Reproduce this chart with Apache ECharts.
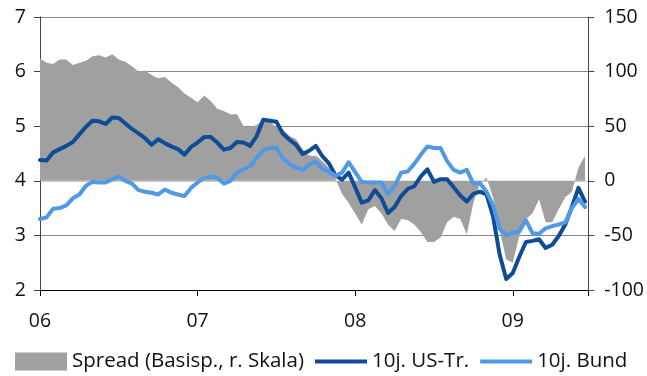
<!DOCTYPE html>
<html>
<head>
<meta charset="utf-8">
<script src="https://cdn.jsdelivr.net/npm/echarts@6/dist/echarts.min.js"></script>
<style>
html,body{margin:0;padding:0;background:#fff;}
#chart{width:647px;height:376px;}
</style>
</head>
<body>
<div id="chart"></div>
<script>
// half-monthly observations, Jan 2006 .. mid 2009
const yearLabels = ['06', '07', '08', '09'];
const stepsPerYear = 24;

const usTr = [4.38,4.37,4.52,4.58,4.64,4.71,4.85,4.99,5.10,5.09,
  5.04,5.16,5.15,5.05,4.95,4.87,4.78,4.66,4.76,4.69,
  4.63,4.58,4.48,4.62,4.70,4.80,4.80,4.70,4.57,4.60,
  4.71,4.70,4.64,4.82,5.12,5.10,5.08,4.86,4.75,4.66,
  4.49,4.55,4.64,4.45,4.32,4.10,4.02,4.15,3.88,3.60,
  3.64,3.83,3.68,3.41,3.52,3.72,3.85,3.90,4.08,4.21,
  3.98,4.03,4.03,3.88,3.73,3.62,3.76,3.80,3.75,3.35,
  2.65,2.20,2.31,2.61,2.88,2.90,2.93,2.77,2.83,2.99,
  3.20,3.52,3.87,3.62];

const bund = [3.30,3.33,3.49,3.50,3.55,3.68,3.75,3.91,3.98,3.97,
  3.97,4.03,4.08,4.00,3.95,3.83,3.80,3.78,3.75,3.84,
  3.78,3.75,3.72,3.87,3.97,4.05,4.08,4.05,3.95,4.00,
  4.15,4.21,4.27,4.42,4.56,4.60,4.61,4.41,4.31,4.24,
  4.20,4.30,4.35,4.22,4.17,4.09,4.15,4.34,4.16,3.98,
  3.97,3.97,3.97,3.76,3.90,4.15,4.17,4.31,4.48,4.63,
  4.60,4.60,4.36,4.20,4.15,4.20,3.95,3.96,3.80,3.55,
  3.12,3.00,3.05,3.07,3.28,3.04,3.03,3.13,3.17,3.20,
  3.24,3.50,3.67,3.52];

const spread = [112,108,107,111,111,106,108,110,114,115,
  113,116,111,109,105,100,101,97,94,95,
  90,86,80,76,72,78,73,66,64,61,
  61,50,49,51,56,54,49,47,41,38,
  29,23,23,18,12,2,-12,-20,-30,-40,
  -26,-23,-30,-40,-46,-35,-36,-40,-47,-56,
  -56,-52,-38,-33,-35,-49,-20,-3,3,-15,
  -45,-72,-75,-50,-35,-30,-17,-38,-38,-26,
  -15,-10,12,23];

const names = ['Spread (Basisp., r. Skala)', '10j. US-Tr.', '10j. Bund'];
const colors = ['#a0a0a0', '#0f4c97', '#5099e6'];

const pairs = arr => arr.map((v, i) => [i, v]);
const FONT = 'Open Sans';
const txt = {color: '#111', fontSize: 19.5, fontFamily: FONT};

const chart = echarts.init(document.getElementById('chart'), null, {renderer: 'canvas'});
chart.setOption({
  animation: false,
  backgroundColor: '#fff',
  grid: {left: 40, right: 57, top: 17, bottom: 86, containLabel: false},
  legend: {
    left: 15, top: 351, itemWidth: 52, itemHeight: 18, itemGap: 11, padding: 0,
    textStyle: {color: '#111', fontSize: 20.5, fontFamily: FONT},
    data: [
      {name: names[0], icon: 'rect'},
      {name: names[1], icon: 'path://M0,0L52,0L52,4L0,4Z'},
      {name: names[2], icon: 'path://M0,0L52,0L52,4L0,4Z'}
    ]
  },
  xAxis: {
    type: 'value', min: 0, max: 83.5, interval: stepsPerYear,
    axisLine: {show: true, onZero: false, lineStyle: {color: '#000', width: 1}},
    axisTick: {show: true, length: 6, lineStyle: {color: '#000'}},
    splitLine: {show: false},
    axisLabel: Object.assign({margin: 21, formatter: v => (v % stepsPerYear === 0 ? (yearLabels[v / stepsPerYear] || '') : '')}, txt)
  },
  yAxis: [
    {
      type: 'value', min: 2, max: 7, interval: 1, position: 'left',
      axisLine: {show: true, lineStyle: {color: '#444'}},
      axisTick: {show: true, length: 6, lineStyle: {color: '#444'}},
      splitLine: {show: true, lineStyle: {color: ['#888', '#888', '#c8c8c8', '#888', '#888', '#888'], width: 1}},
      axisLabel: Object.assign({margin: 14}, txt)
    },
    {
      type: 'value', min: -100, max: 150, interval: 50, position: 'right',
      axisLine: {show: true, lineStyle: {color: '#444'}},
      axisTick: {show: true, length: 6, lineStyle: {color: '#444'}},
      splitLine: {show: false},
      axisLabel: Object.assign({margin: 16}, txt)
    }
  ],
  series: [
    {
      name: names[0], type: 'line', yAxisIndex: 1, data: pairs(spread),
      symbol: 'none', color: colors[0], itemStyle: {color: colors[0]},
      lineStyle: {width: 0, color: colors[0]},
      areaStyle: {color: colors[0], opacity: 1}, z: 1
    },
    {
      name: names[1], type: 'line', yAxisIndex: 0, data: pairs(usTr),
      symbol: 'none', color: colors[1], itemStyle: {color: colors[1]},
      lineStyle: {width: 4, color: colors[1], join: 'round', cap: 'round'}, z: 3
    },
    {
      name: names[2], type: 'line', yAxisIndex: 0, data: pairs(bund),
      symbol: 'none', color: colors[2], itemStyle: {color: colors[2]},
      lineStyle: {width: 4, color: colors[2], join: 'round', cap: 'round'}, z: 4
    }
  ]
});
</script>
</body>
</html>
